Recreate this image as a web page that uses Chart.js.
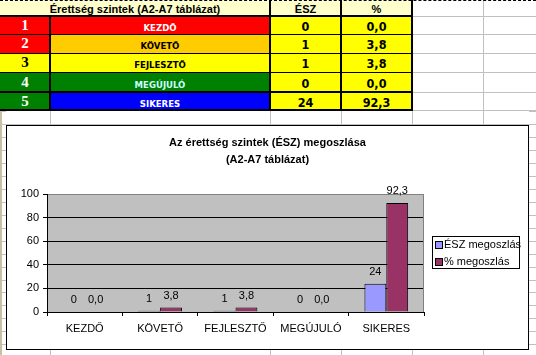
<!DOCTYPE html>
<html>
<head>
<meta charset="utf-8">
<script src="https://cdn.jsdelivr.net/npm/chart.js@4.4.0/dist/chart.umd.min.js"></script>
<style>
html,body{margin:0;padding:0;}
body{width:536px;height:355px;position:relative;overflow:hidden;background:#fff;font-family:"Liberation Sans",Arial,sans-serif;}
.abs{position:absolute;box-sizing:border-box;}
.cell{position:absolute;display:flex;align-items:center;justify-content:center;white-space:nowrap;}
#chartbox{position:absolute;left:6px;top:125px;width:523px;height:225px;border:1px solid #000;box-sizing:border-box;background:#fff;}
#c{position:absolute;left:0;top:0;}
</style>
</head>
<body>
<div id="sheet"></div>
<div id="chartbox"><canvas id="c" width="521" height="223"></canvas></div>
<script>
// ---- data ----
const categories = ['KEZDŐ', 'KÖVETŐ', 'FEJLESZTŐ', 'MEGÚJULÓ', 'SIKERES'];
const levelNumbers = ['1', '2', '3', '4', '5'];
const eszValues = [0, 1, 1, 0, 24];
const pctValues = [0.0, 3.8, 3.8, 0.0, 92.3];
const seriesLabels = ['ÉSZ megoszlás', '% megoszlás'];
const titleLines = ['Az érettség szintek (ÉSZ) megoszlása', '(A2-A7 táblázat)'];
const tableHeader = ['Érettség szintek (A2-A7 táblázat)', 'ÉSZ', '%'];
const yTickValues = [0, 20, 40, 60, 80, 100];

// ---- spreadsheet table (HTML) ----
const sheet = document.getElementById('sheet');
function box(x, y, w, h, bg) {
  const d = document.createElement('div');
  d.className = 'abs';
  d.style.cssText += `left:${x}px;top:${y}px;width:${w}px;height:${h}px;background:${bg};`;
  sheet.appendChild(d); return d;
}
function cell(x, y, w, h, bg, text, color, font, dy) {
  if (bg) box(x, y, w, h, bg);
  const d = document.createElement('div');
  d.className = 'cell';
  d.style.cssText = `left:${x}px;top:${y + (dy||0)}px;width:${w}px;height:${h}px;color:${color};font:${font};`;
  d.textContent = text;
  sheet.appendChild(d); return d;
}
const GRID = '#C0C0C0';
[16, 34, 53, 72, 92, 110].forEach(y => box(412, y, 124, 1, GRID));
const rowLines = [111];
for (let k = 0; k < 18; k++) rowLines.push(Math.round(124 + 12.96 * k));
rowLines.forEach(y => { box(529, y, 7, 1, GRID); box(1, y, 5, 1, GRID); });
box(483, 0, 1, 125, GRID);
[50, 270, 341, 412, 483].forEach(x => { box(x, 111, 1, 14, GRID); box(x, 350, 1, 5, GRID); });
box(412, 124, 124, 1, GRID); box(6, 124, 406, 1, GRID);
box(0, 111, 2, 244, '#C8C0A0');

const hdrFont = 'bold 11px "Liberation Sans", Arial, sans-serif';
const tFont = 'bold 9.5px "DejaVu Sans Condensed", "DejaVu Sans", sans-serif';
const vFont = 'bold 12.5px "DejaVu Sans Condensed", "DejaVu Sans", sans-serif';
const nFont = 'bold 15px "Liberation Serif", "Times New Roman", serif';
cell(0, 1, 270, 15, '#FFFFCC', tableHeader[0], '#000', hdrFont, 0);
cell(270, 1, 71, 15, '#FFFFCC', tableHeader[1], '#000', hdrFont, 0);
cell(341, 1, 71, 15, '#FFFFCC', tableHeader[2], '#000', hdrFont, 0);

const rowTops = [16, 34, 53, 72, 92, 110];
const numBg = ['#FF0000', '#FF0000', '#FFFF00', '#008000', '#008000'];
const numFg = ['#FFFFFF', '#FFFFFF', '#000000', '#FFFFFF', '#FFFFFF'];
const nameBg = ['#FF0000', '#FFCC00', '#FFFF00', '#008000', '#0000FF'];
const nameFg = ['#FFFFFF', '#000000', '#000000', '#CCFFFF', '#FFFFFF'];
categories.forEach((name, i) => {
  const y = rowTops[i], h = rowTops[i + 1] - rowTops[i];
  cell(0, y, 50, h, numBg[i], levelNumbers[i], numFg[i], nFont, 0);
  cell(50, y, 220, h, nameBg[i], name, nameFg[i], tFont, 2);
  cell(270, y, 71, h, '#FFFF00', String(eszValues[i]), '#000', vFont, 1);
  cell(341, y, 71, h, '#FFFF00', pctValues[i].toFixed(1).replace('.', ','), '#000', vFont, 1);
});
box(0, 15, 413, 2, '#000');
[34, 53, 72].forEach(y => box(0, y, 413, 1, '#000'));
box(0, 91, 413, 2, '#000');
box(0, 109, 413, 2, '#000');
box(49, 16, 2, 95, '#000');
[269, 340, 411].forEach(x => box(x, 0, 2, 111, '#000'));
const topLine = box(0, 0, 536, 1, 'transparent');
topLine.style.borderTop = '1px dashed #000';

// ---- chart ----
const FONT = '"Liberation Sans", Arial, sans-serif';
const bgPlugin = {
  id: 'plotBg',
  beforeDraw(chart) {
    const a = chart.chartArea, c = chart.ctx;
    c.save(); c.fillStyle = '#C0C0C0';
    c.fillRect(a.left, a.top, a.right - a.left, a.bottom - a.top);
    c.restore();
  },
  beforeDatasetsDraw(chart) {
    const a = chart.chartArea, c = chart.ctx;
    c.save(); c.strokeStyle = '#808080'; c.lineWidth = 1;
    c.beginPath(); c.moveTo(Math.round(a.right) - 0.5, a.top); c.lineTo(Math.round(a.right) - 0.5, a.bottom); c.stroke();
    c.restore();
  }
};
const labelPlugin = {
  id: 'valueLabels',
  afterDatasetsDraw(chart) {
    const c = chart.ctx;
    c.save();
    c.font = '11px ' + FONT; c.fillStyle = '#000';
    c.textAlign = 'center'; c.textBaseline = 'middle';
    chart.data.datasets.forEach((ds, di) => {
      chart.getDatasetMeta(di).data.forEach((el, i) => {
        const v = ds.data[i];
        const t = di === 0 ? String(v) : v.toFixed(1).replace('.', ',');
        c.fillText(t, el.x, el.y - 12);
      });
    });
    c.restore();
  }
};
const legendPlugin = {
  id: 'boxLegend',
  afterDraw(chart) {
    const c = chart.ctx;
    const a = chart.chartArea;
    const lx = Math.round(a.right) + 8, ly = 110, lw = 88, lh = 33;
    c.save();
    c.fillStyle = '#fff'; c.fillRect(lx, ly, lw, lh);
    c.strokeStyle = '#000'; c.lineWidth = 1;
    c.strokeRect(lx + 0.5, ly + 0.5, lw - 1, lh - 1);
    c.font = '11px ' + FONT; c.textBaseline = 'middle'; c.textAlign = 'left';
    chart.data.datasets.forEach((ds, i) => {
      const cy = ly + 9 + i * 16.5;
      c.fillStyle = ds.backgroundColor;
      c.fillRect(lx + 4, Math.round(cy) - 3, 6, 6);
      c.strokeRect(lx + 3.5, Math.round(cy) - 3.5, 7, 7);
      c.fillStyle = '#000';
      c.fillText(ds.label, lx + 12, cy);
    });
    c.restore();
  }
};

new Chart(document.getElementById('c'), {
  type: 'bar',
  data: {
    labels: categories,
    datasets: [
      { label: seriesLabels[0], data: eszValues, backgroundColor: '#9999FF', borderColor: '#000', borderWidth: 1, categoryPercentage: 0.58, barPercentage: 1 },
      { label: seriesLabels[1], data: pctValues, backgroundColor: '#993366', borderColor: '#000', borderWidth: 1, categoryPercentage: 0.58, barPercentage: 1 }
    ]
  },
  options: {
    responsive: false, animation: false, devicePixelRatio: 1,
    layout: { padding: 0 },
    plugins: {
      legend: { display: false },
      tooltip: { enabled: false },
      title: {
        display: true, text: titleLines, color: '#000',
        font: { family: FONT, size: 11, weight: 'bold', lineHeight: 1.5 },
        padding: { top: 9, bottom: 26 }
      }
    },
    scales: {
      x: {
        grid: { offset: true, drawOnChartArea: false, tickLength: 4, color: '#000', tickColor: '#000' },
        border: { color: '#000' },
        ticks: { color: '#000', font: { family: FONT, size: 11 }, padding: 6, maxRotation: 0, autoSkip: false },
        afterFit(s) { s.height = 37; }
      },
      y: {
        min: 0, max: 100,
        afterBuildTicks(s) { s.ticks = yTickValues.map(v => ({ value: v })); },
        ticks: { color: '#000', font: { family: FONT, size: 11 }, padding: 4 },
        grid: { color: (ctx) => (ctx.tick && ctx.tick.value === 100 ? '#808080' : '#000'), tickColor: '#000', tickLength: 4 },
        border: { color: '#000' },
        afterFit(s) { s.width = 40; }
      },
      yRight: {
        type: 'linear', position: 'right', display: true,
        grid: { display: false }, border: { display: false }, ticks: { display: false },
        afterFit(s) { s.width = 104; }
      }
    }
  },
  plugins: [bgPlugin, labelPlugin, legendPlugin]
});
</script>
</body>
</html>
